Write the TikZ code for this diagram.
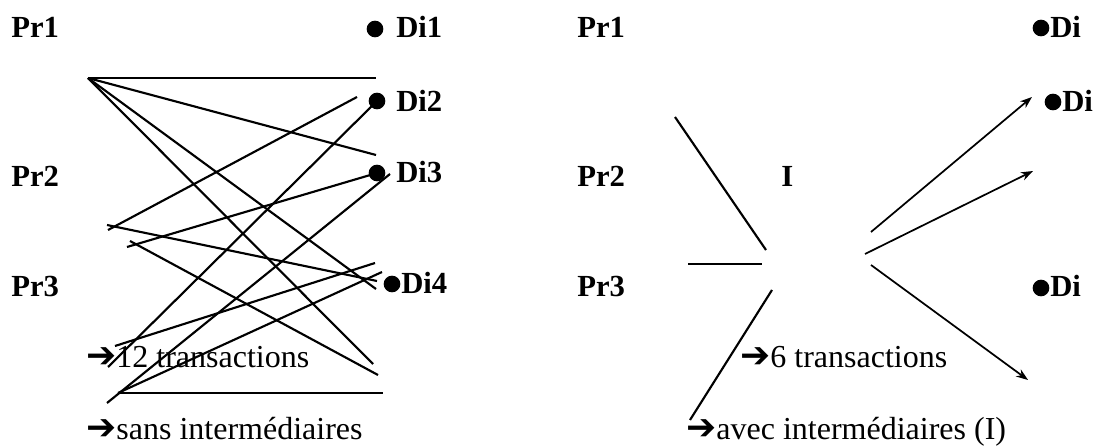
\documentclass[tikz,border=0pt]{standalone}
\usepackage{fontspec}
\setmainfont{Liberation Serif}
\newfontfamily\arrowfont{DejaVu Sans}
\usetikzlibrary{arrows, arrows.meta, positioning}

\newcommand{\pointer}{{\arrowfont\bfseries\fontsize{27}{28}\selectfont ➔}}

\begin{document}
\begin{tikzpicture}[
    x=0.75pt, y=-0.75pt,
    lab/.style={font=\fontsize{23}{27}\selectfont\bfseries, inner sep=0pt, anchor=base west},
    note/.style={font=\fontsize{24}{28}\selectfont, inner sep=0pt, anchor=base west},
    dot/.style={circle, fill, inner sep=0pt, minimum size=12.5pt},
    link/.style={line width=1.6pt},
    arrow/.style={->, >={Stealth[length=9pt,width=6.5pt]}, line width=1.3pt}
]
    \useasboundingbox (0,0) rectangle (1103,448);

    % sans intermediaires
    \node[lab] (pr1) at (11,38) {Pr1};
    \node[lab] (pr2) at (11,187) {Pr2};
    \node[lab] (pr3) at (11,297) {Pr3};
    \node[dot] (d1) at (375,29) {};
    \node[lab] (di1) at (396,38) {Di1};
    \node[dot] (d2) at (377,101) {};
    \node[lab] (di2) at (396,112) {Di2};
    \node[dot] (d3) at (377,173) {};
    \node[lab] (di3) at (396,183) {Di3};
    \node[dot] (d4) at (392,284) {};
    \node[lab] (di4) at (401,294) {Di4};

    \coordinate (a0) at (88,78);
    \coordinate (a1) at (376,78);
    \coordinate (a2) at (376,155);
    \coordinate (a3) at (376,289);
    \coordinate (a4) at (373,364);
    \coordinate (b0) at (108,230);
    \coordinate (b1) at (357,97);
    \coordinate (b2) at (107,225);
    \coordinate (b3) at (377,281);
    \coordinate (c0) at (127,247);
    \coordinate (c1) at (130,241);
    \coordinate (c2) at (378,375);
    \coordinate (e0) at (108,367);
    \coordinate (e1) at (115,346);
    \coordinate (e2) at (375,263);
    \coordinate (f0) at (107,403);
    \coordinate (f1) at (390,174);
    \coordinate (f2) at (118,393);
    \coordinate (f3) at (382,272);
    \coordinate (f4) at (383,393);

    \draw[link] (a0) -- (a1);
    \draw[link] (a0) -- (a2);
    \draw[link] (a0) -- (a3);
    \draw[link] (a0) -- (a4);
    \draw[link] (b0) -- (b1);
    \draw[link] (b2) -- (b3);
    \draw[link] (c0) -- (d3.center);
    \draw[link] (c1) -- (c2);
    \draw[link] (e0) -- (d2.center);
    \draw[link] (e1) -- (e2);
    \draw[link] (f0) -- (f1);
    \draw[link] (f2) -- (f3);
    \draw[link] (f2) -- (f4);

    \node[note] (cnt1) at (86,368) {\pointer12 transactions};
    \node[note] (how1) at (86,440) {\pointer sans intermédiaires};

    % avec intermediaires
    \node[lab] (qr1) at (577,38) {Pr1};
    \node[lab] (qr2) at (577,187) {Pr2};
    \node[lab] (qr3) at (577,297) {Pr3};
    \node[lab] (inter) at (781,187) {I};
    \node[dot] (r1) at (1041,28) {};
    \node[lab] (ri1) at (1050,38) {Di};
    \node[dot] (r2) at (1053,102) {};
    \node[lab] (ri2) at (1062,112) {Di};
    \node[dot] (r3) at (1041,288) {};
    \node[lab] (ri3) at (1050,297) {Di};

    \coordinate (g0) at (675,117);
    \coordinate (g1) at (766,250);
    \coordinate (g2) at (688,264);
    \coordinate (g3) at (762,264);
    \coordinate (g4) at (772,290);
    \coordinate (g5) at (690,420);
    \coordinate (h0) at (871,232);
    \coordinate (h1) at (1032,97);
    \coordinate (h2) at (865,254);
    \coordinate (h3) at (1033,171);
    \coordinate (h4) at (871,265);
    \coordinate (h5) at (1028,380);

    \draw[link] (g0) -- (g1);
    \draw[link] (g2) -- (g3);
    \draw[link] (g4) -- (g5);
    \draw[arrow] (h0) -- (h1);
    \draw[arrow] (h2) -- (h3);
    \draw[arrow] (h4) -- (h5);

    \node[note] (cnt2) at (740,368) {\pointer6 transactions};
    \node[note] (how2) at (686,440) {\pointer avec intermédiaires (I)};
\end{tikzpicture}
\end{document}
